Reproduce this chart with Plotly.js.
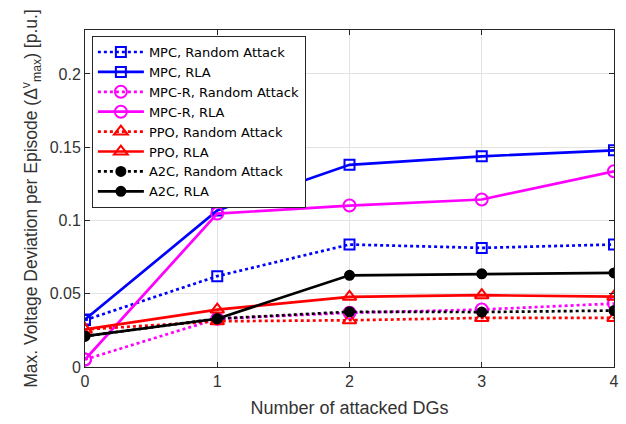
<!DOCTYPE html>
<html><head><meta charset="utf-8">
<script src="https://cdn.plot.ly/plotly-3.0.1.min.js"></script>
<style>html,body{margin:0;padding:0;background:#fff;}#chart{width:626px;height:424px;}</style>
</head><body><div id="chart"></div>
<script>
const attackedDGs = [0, 1, 2, 3, 4];
const mpcRandom  = [0.032, 0.062, 0.0836, 0.0813, 0.0836];
const mpcRLA     = [0.0324, 0.1068, 0.138, 0.1438, 0.1479];
const mpcrRandom = [0.0051, 0.0329, 0.037, 0.0392, 0.0433];
const mpcrRLA    = [0.0051, 0.1047, 0.1102, 0.1143, 0.1336];
const ppoRandom  = [0.0256, 0.0312, 0.0319, 0.0335, 0.0335];
const ppoRLA     = [0.0256, 0.0392, 0.0479, 0.049, 0.048];
const a2cRandom  = [0.021, 0.033, 0.0377, 0.0375, 0.0385];
const a2cRLA     = [0.021, 0.0329, 0.0626, 0.0636, 0.0642];
const seriesNames = ['MPC, Random Attack','MPC, RLA','MPC-R, Random Attack','MPC-R, RLA','PPO, Random Attack','PPO, RLA','A2C, Random Attack','A2C, RLA'];
const xTicks = [0,1,2,3,4];
const yTicks = [0,0.05,0.1,0.15,0.2];
const yTickLabels = ['0','0.05','0.1','0.15','0.2'];

function tr(y, name, color, dash, symbol, size){
  return {x: attackedDGs, y: y, name: name, type:'scatter', mode:'lines+markers',
    line:{color:color, width:2.7, dash:dash},
    marker:{symbol:symbol, size:size, color:color, line:{color:color, width:2}}};
}
const data = [
  tr(mpcRandom, seriesNames[0], '#0000ff', 'dot', 'square-open', 10),
  tr(mpcRLA, seriesNames[1], '#0000ff', 'solid', 'square-open', 10),
  tr(mpcrRandom, seriesNames[2], '#ff00ff', 'dot', 'circle-open', 12),
  tr(mpcrRLA, seriesNames[3], '#ff00ff', 'solid', 'circle-open', 12),
  tr(ppoRandom, seriesNames[4], '#ff0000', 'dot', 'triangle-up-open', 12),
  tr(ppoRLA, seriesNames[5], '#ff0000', 'solid', 'triangle-up-open', 12),
  tr(a2cRandom, seriesNames[6], '#000000', 'dot', 'circle', 9),
  tr(a2cRLA, seriesNames[7], '#000000', 'solid', 'circle', 9)
];
const FONT = 'Liberation Sans, Arial, Helvetica, sans-serif';
const axisCommon = {showline:true, mirror:'ticks', linecolor:'#262626', linewidth:1,
  ticks:'inside', ticklen:5, tickcolor:'#262626', showgrid:true, gridcolor:'#e3e3e3', gridwidth:1,
  zeroline:false, tickfont:{family:FONT, size:16, color:'#333'}};
const layout = {
  width:626, height:424, margin:{l:85, r:12, t:30, b:57},
  paper_bgcolor:'#fff', plot_bgcolor:'#fff', showlegend:true,
  font:{family:FONT, color:'#262626'},
  xaxis: Object.assign({}, axisCommon, {range:[0,4], tickvals:xTicks,
    title:{text:'Number of attacked DGs', font:{size:18, color:'#333'}, standoff:12}}),
  yaxis: Object.assign({}, axisCommon, {range:[0,0.23], tickvals:yTicks, ticktext:yTickLabels,
    title:{text:'Max. Voltage Deviation per Episode (Δ<sup>v</sup><sub>max</sub>) [p.u.]', font:{size:17.5, color:'#333'}, standoff:7}}),
  legend:{x:0.013, y:0.982, xanchor:'left', yanchor:'top', bgcolor:'#fff', bordercolor:'#262626', borderwidth:1,
    font:{family:'DejaVu Sans, sans-serif', size:13, color:'#000'}, tracegroupgap:0, itemwidth:46}
};
Plotly.newPlot('chart', data, layout, {displayModeBar:false, staticPlot:true});
</script></body></html>
